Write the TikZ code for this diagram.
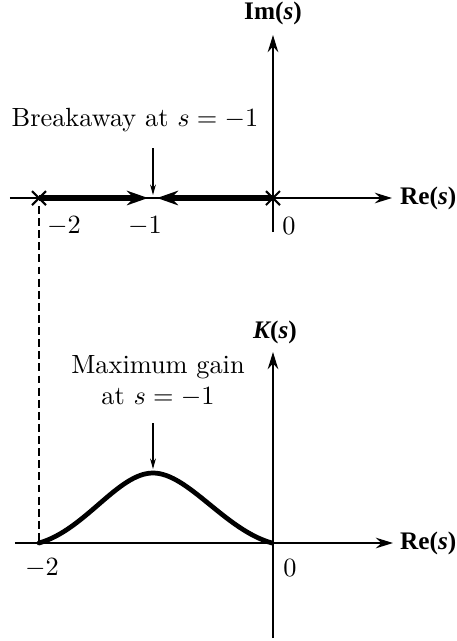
\documentclass[tikz,border=0pt]{standalone}
\usepackage{fontspec}
\newfontfamily\axfont{Liberation Serif}
\usetikzlibrary{arrows.meta}
\tikzset{
  axis/.style={line width=0.75pt,-{Stealth[length=6.5pt,width=4pt]}},
  locus/.style={line width=2pt,-{Stealth[length=8pt,width=5.5pt]}},
  note/.style={line width=0.45pt,-{Stealth[length=4pt,width=2.2pt]}},
  gain/.style={line width=1.8pt,line cap=round},
  guide/.style={line width=0.6pt,dash pattern=on 3pt off 1.6pt},
  axlabel/.style={font=\axfont\bfseries\fontsize{9.6}{11}\selectfont,inner sep=1pt},
  ticklabel/.style={inner sep=1pt}
}
\newcommand{\polemark}[1]{\draw[line width=0.8pt] (#1) +(-7,-7) -- +(7,7) (#1) +(-7,7) -- +(7,-7);}
\begin{document}
\begin{tikzpicture}[x=0.01335cm,y=-0.01335cm]
\useasboundingbox (0,0) rectangle (457,641);
% s-plane, root locus
\coordinate (reL) at (10,198);
\coordinate (reR) at (392,198);
\coordinate (imB) at (273,232);
\coordinate (imT) at (273,35);
\coordinate (p2) at (39,198);
\coordinate (p0) at (273,198);
\coordinate (brkL) at (148,198);
\coordinate (brkR) at (157,198);
\coordinate (brkA) at (153,148);
\coordinate (brk) at (153,195);
\draw[axis] (reL) -- (reR);
\draw[axis] (imB) -- (imT);
\node[axlabel,anchor=west] (reTop) at (397,198) {Re(\textit{s})};
\node[axlabel] (imTop) at (273,13) {Im(\textit{s})};
\draw[locus] (p2) -- (brkL);
\draw[locus] (p0) -- (brkR);
\polemark{p2}
\polemark{p0}
\node (brktext) at (135,120) {Breakaway at $s=-1$};
\draw[note] (brkA) -- (brk);
\node[ticklabel] (tm2) at (64,226) {$-2$};
\node[ticklabel] (tm1) at (145,226) {$-1$};
\node[ticklabel] (t0) at (289,226) {$0$};
% guide down to the gain plot
\coordinate (dtop) at (39,206);
\coordinate (dbot) at (39,543);
\draw[guide] (dtop) -- (dbot);
% gain plot
\coordinate (kL) at (15,543);
\coordinate (kR) at (393,543);
\coordinate (kB) at (273,638);
\coordinate (kT) at (273,352);
\coordinate (c2) at (39,543);
\coordinate (cpk) at (153,473);
\coordinate (c0) at (272,543);
\coordinate (pkA) at (153,423);
\coordinate (pk) at (153,469);
\draw[axis] (kL) -- (kR);
\draw[axis] (kB) -- (kT);
\node[axlabel,anchor=west] (reBot) at (397,543) {Re(\textit{s})};
\node[axlabel] (kTop) at (275,332) {{\itshape K}(\textit{s})};
\draw[gain] (c2) .. controls (85,530) and (118,473) .. (cpk)
  .. controls (188,473) and (225,530) .. (c0);
\node[align=center] (gaintext) at (158,381) {Maximum gain\\at $s=-1$};
\draw[note] (pkA) -- (pk);
\node[ticklabel] (bm2) at (42,568) {$-2$};
\node[ticklabel] (b0) at (290,568) {$0$};
\end{tikzpicture}
\end{document}
